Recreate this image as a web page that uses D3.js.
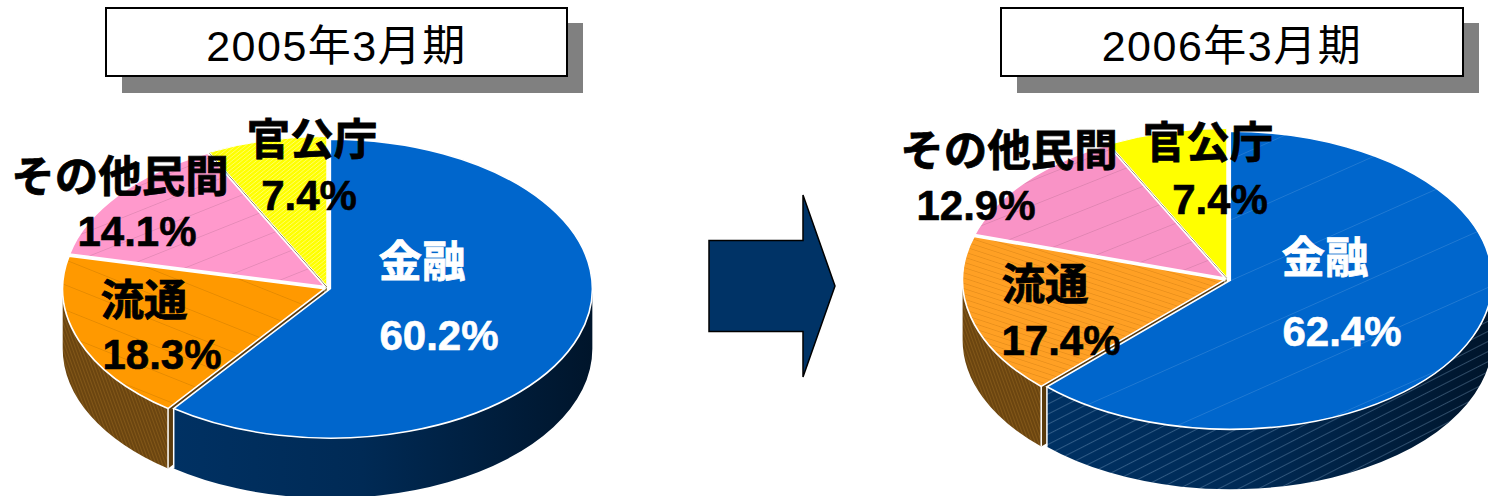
<!DOCTYPE html>
<html>
<head>
<meta charset="utf-8">
<script src="https://cdn.jsdelivr.net/npm/d3@7/dist/d3.min.js"></script>
<style>
  html, body { margin: 0; padding: 0; background: #fff; overflow: hidden; }
  svg { display: block; }
  text { font-family: "Liberation Sans", "Noto Sans CJK JP", sans-serif; }
</style>
</head>
<body>
<svg id="chart" width="1488" height="496"></svg>
<script>
// Revenue share by customer sector, two fiscal years
const categories = ["金融", "流通", "その他民間", "官公庁"];
const years = ["2005年3月期", "2006年3月期"];
const shares2005 = [60.2, 18.3, 14.1, 7.4];
const shares2006 = [62.4, 17.4, 12.9, 7.4];

const topColours2005 = ["#0066cc", "#ff9900", "#ff99cc", "#ffff00"];
const topColours2006 = ["#0066cc", "#ffa024", "#f993c6", "#ffff00"];
const wallColours = ["#002d5c", "#5a3a0c", "#ffffff", "#6b5a20"];

const svg = d3.select("#chart");
const defs = svg.append("defs");

function hatch(id, base, line, size, width, angle) {
  const p = defs.append("pattern").attr("id", id)
    .attr("patternUnits", "userSpaceOnUse")
    .attr("width", size).attr("height", size)
    .attr("patternTransform", `rotate(${angle})`);
  if (base) p.append("rect").attr("width", size).attr("height", size).attr("fill", base);
  p.append("rect").attr("width", width).attr("height", size).attr("fill", line);
}
hatch("brownHatch", "#6b4510", "#825718", 3, 1, -20);
hatch("orangeStripe", null, "rgba(190,110,10,0.45)", 8, 1, -60);
hatch("yellowStripe", null, "#ffff66", 4, 1, 35);
hatch("faintLine", null, "rgba(0,0,0,0.13)", 36, 1, 55);
hatch("faintBlue", null, "rgba(255,255,255,0.16)", 84, 1, 52);
hatch("faintOrange", null, "rgba(120,70,0,0.25)", 36, 1, -55);
hatch("blueStripeLine", null, "rgba(130,165,200,0.36)", 9, 1, 63);

const wallGrad = defs.append("linearGradient").attr("id", "blueWall")
  .attr("gradientUnits", "objectBoundingBox").attr("x1", 0).attr("x2", 1);
wallGrad.append("stop").attr("offset", 0).attr("stop-color", "#003163");
wallGrad.append("stop").attr("offset", 0.45).attr("stop-color", "#002a55");
wallGrad.append("stop").attr("offset", 1).attr("stop-color", "#00152b");

const pie = d3.pie().sort(null).startAngle(0).endAngle(2 * Math.PI);

function drawPie(cfg) {
  const { cx, cy, rx, ry, depth, shares, colours, overlays, wallFills, gap } = cfg;
  const root = svg.append("g");
  const arcs = pie(shares);
  const px = a => rx * Math.sin(a);
  const py = a => -ry * Math.cos(a);
  const arcGen = d3.arc().innerRadius(0).outerRadius(rx);

  // Back-to-front: last slice first, so the large front slice overlaps the rest
  arcs.slice().reverse().forEach(d => {
    const mid = (d.startAngle + d.endAngle) / 2;
    const ox = Math.sin(mid) * gap, oy = -Math.cos(mid) * gap * 0.7;
    const g = root.append("g").attr("transform", `translate(${cx + ox},${cy + oy})`);

    // Cut face along the slice's start edge, seen only where slices part
    if (d.index > 0) {
      const a = d.startAngle, x = px(a), y = py(a);
      g.append("path")
        .attr("d", `M0,0L${x},${y}L${x},${y + depth}L0,${depth}Z`)
        .attr("fill", wallColours[d.index]);
    }

    // Outer wall: the stretch of the rim on the near half of the ellipse
    const a0 = Math.max(d.startAngle, Math.PI / 2);
    const a1 = Math.min(d.endAngle, Math.PI * 1.5);
    if (a1 > a0) {
      const large = a1 - a0 > Math.PI ? 1 : 0;
      const wall = `M${px(a0)},${py(a0)}A${rx},${ry} 0 ${large} 1 ${px(a1)},${py(a1)}` +
        `L${px(a1)},${py(a1) + depth}A${rx},${ry} 0 ${large} 0 ${px(a0)},${py(a0) + depth}Z`;
      g.append("path").attr("d", wall).attr("fill", wallFills[d.index]);
      if (overlays.wall[d.index]) {
        g.append("path").attr("d", wall).attr("fill", overlays.wall[d.index]);
      }
      // White seam down each wall end that faces a neighbouring slice
      [a0, a1].filter(a => a !== Math.PI / 2 && a !== Math.PI * 1.5).forEach(a => {
        g.append("line")
          .attr("x1", px(a)).attr("x2", px(a))
          .attr("y1", py(a)).attr("y2", py(a) + depth)
          .attr("stroke", "#fff").attr("stroke-width", 1.5);
      });
    }

    // Top surface: a circular arc squashed into the tilted ellipse
    const top = g.append("g").attr("transform", `scale(1,${ry / rx})`);
    top.append("path").attr("d", arcGen(d)).attr("fill", colours[d.index]);
    if (overlays.top[d.index]) {
      top.append("path").attr("d", arcGen(d)).attr("fill", overlays.top[d.index]);
    }
    top.append("path").attr("d", arcGen(d)).attr("fill", "none")
      .attr("stroke", "#fff").attr("stroke-width", cfg.strokes[d.index])
      .attr("vector-effect", "non-scaling-stroke");
  });
}

drawPie({
  cx: 327.5, cy: 288, rx: 262, ry: 149.5, depth: 60, gap: 3,
  shares: shares2005, colours: topColours2005,
  wallFills: ["url(#blueWall)", "url(#brownHatch)", wallColours[2], wallColours[3]],
  overlays: { wall: [null, null, null, null], top: [null, "url(#faintOrange)", "url(#faintLine)", "url(#yellowStripe)"] },
  strokes: [1.6, 1.6, 1.8, 1]
});
drawPie({
  cx: 1227.5, cy: 279.5, rx: 262, ry: 149, depth: 60, gap: 3,
  shares: shares2006, colours: topColours2006,
  wallFills: ["url(#blueWall)", "url(#brownHatch)", wallColours[2], wallColours[3]],
  overlays: { wall: ["url(#blueStripeLine)", null, null, null], top: ["url(#faintBlue)", "url(#orangeStripe)", "url(#faintLine)", null] },
  strokes: [1.6, 1.6, 1.8, 1]
});

// Year captions: a white plate with a flat grey drop shadow
function caption(x, y, w, h, label) {
  svg.append("rect").attr("x", x + 16).attr("y", y + 15).attr("width", w).attr("height", h + 2).attr("fill", "#808080");
  svg.append("rect").attr("x", x).attr("y", y).attr("width", w).attr("height", h)
    .attr("fill", "#fff").attr("stroke", "#000").attr("stroke-width", 2);
  svg.append("text").attr("x", x + w / 2).attr("y", y + h / 2 + 19)
    .attr("text-anchor", "middle").attr("font-size", 43).attr("letter-spacing", 1.5).attr("fill", "#000").text(label);
}
caption(106, 8, 461, 68, years[0]);
caption(1001, 8, 462, 68, years[1]);

// Arrow between the two years
const arrowX = d3.scaleLinear().domain([0, 1]).range([709, 835]);
const arrowY = d3.scaleLinear().domain([0, 1]).range([195, 377]);
const arrowShape = [[0, .25], [.746, .25], [.746, 0], [1, .5], [.746, 1], [.746, .75], [0, .75]];
svg.append("path")
  .attr("d", d3.line().x(d => arrowX(d[0])).y(d => arrowY(d[1]))(arrowShape) + "Z")
  .attr("fill", "#003366").attr("stroke", "#000").attr("stroke-width", 1.5);

// Slice labels
const labelSets = [
  { shares: shares2005, spots: [
    { name: [422, 277], val: [439, 350], fill: "#fff" },
    { name: [144, 316], val: [162, 369], fill: "#000" },
    { name: [120, 192], val: [137, 246], fill: "#000" },
    { name: [312, 155], val: [309, 210], fill: "#000" }] },
  { shares: shares2006, spots: [
    { name: [1325, 273], val: [1342, 346], fill: "#fff" },
    { name: [1045, 300], val: [1061, 355], fill: "#000" },
    { name: [1009, 166], val: [976, 220], fill: "#000" },
    { name: [1208, 158], val: [1220, 214], fill: "#000" }] }
];
labelSets.forEach(set => set.spots.forEach((s, i) => {
  svg.append("text").attr("x", s.name[0]).attr("y", s.name[1]).attr("text-anchor", "middle")
    .attr("font-size", 43.5).attr("font-weight", 700).attr("fill", s.fill)
    .attr("stroke", s.fill).attr("stroke-width", 0.8).text(categories[i]);
  svg.append("text").attr("x", s.val[0]).attr("y", s.val[1]).attr("text-anchor", "middle")
    .attr("font-size", 42).attr("font-weight", 700).attr("fill", s.fill)
    .attr("stroke", s.fill).attr("stroke-width", 0.6)
    .text(d3.format(".1f")(set.shares[i]) + "%");
}));
</script>
</body>
</html>
